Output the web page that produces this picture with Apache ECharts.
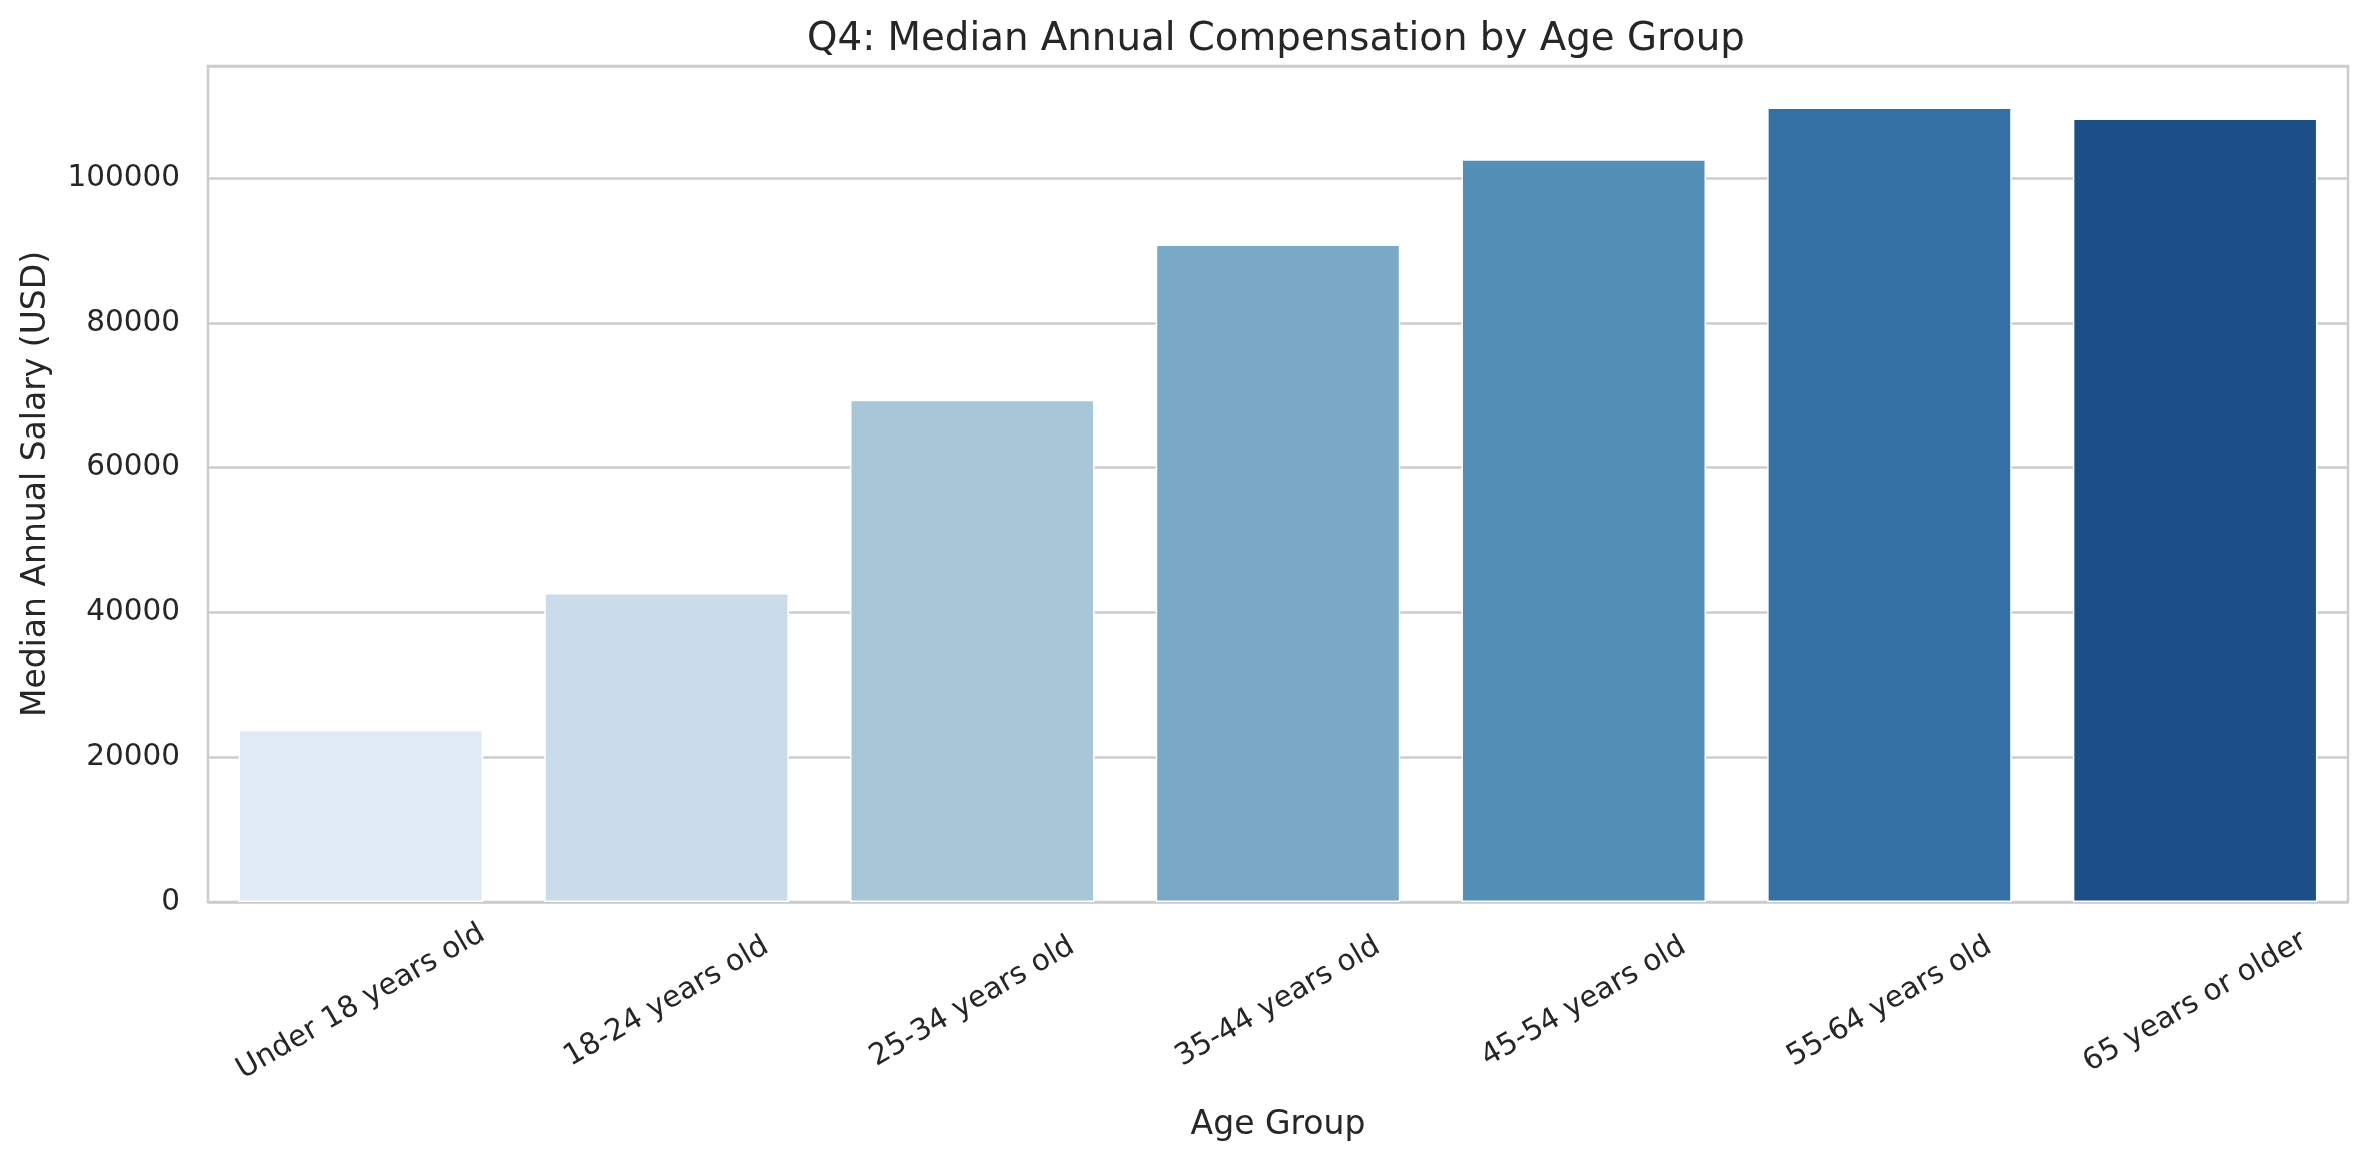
<!DOCTYPE html>
<html>
<head>
<meta charset="utf-8">
<script src="https://cdn.jsdelivr.net/npm/echarts@6/dist/echarts.min.js"></script>
<style>
  html, body { margin: 0; padding: 0; background: #fff; }
  #main { width: 2365px; height: 1163px; }
</style>
</head>
<body>
<div id="main"></div>
<script>
// data
var ageGroups = ['Under 18 years old', '18-24 years old', '25-34 years old', '35-44 years old',
                 '45-54 years old', '55-64 years old', '65 years or older'];
var medianSalary = [23800, 42700, 69400, 90850, 102600, 109750, 108250];
var barColors = ['#e0eaf4', '#cadbea', '#a7c7d9', '#7aa9c8', '#538fb7', '#3470a3', '#1c4f87'];
var yTicks = [0, 20000, 40000, 60000, 80000, 100000];

var chartDom = document.getElementById('main');
var myChart = echarts.init(chartDom);
var option;

var font = 'DejaVu Sans';
var textColor = '#262626';

option = {
  animation: false,
  backgroundColor: '#fff',
  title: {
    text: 'Q4: Median Annual Compensation by Age Group',
    left: 802,
    top: 15,
    textStyle: { fontFamily: font, fontSize: 38.75, fontWeight: 'normal', color: textColor }
  },
  grid: {
    left: 208, right: 17, top: 66, bottom: 261,
    show: true, borderColor: '#cccccc', borderWidth: 2.5, backgroundColor: '#fff'
  },
  xAxis: {
    type: 'category',
    data: ageGroups,
    name: 'Age Group',
    nameLocation: 'middle',
    nameGap: 207,
    nameTextStyle: { fontFamily: font, fontSize: 33, color: textColor },
    axisLine: { show: false },
    axisTick: { show: false },
    axisLabel: {
      rotate: 30,
      align: 'center',
      verticalAlign: 'middle',
      margin: 100,
      fontFamily: font,
      fontSize: 29.5,
      color: textColor
    }
  },
  yAxis: {
    type: 'value',
    min: 0,
    max: 115500,
    interval: 20000,
    name: 'Median Annual Salary (USD)',
    nameLocation: 'middle',
    nameGap: 155,
    nameTextStyle: { fontFamily: font, fontSize: 33, color: textColor },
    axisLine: { show: false },
    axisTick: { show: false },
    axisLabel: {
      margin: 28,
      fontFamily: font,
      fontSize: 29.5,
      color: textColor,
      showMaxLabel: false,
      formatter: function (v) { return yTicks.indexOf(v) >= 0 ? String(v) : ''; }
    },
    splitLine: { lineStyle: { color: '#cccccc', width: 2.5 } }
  },
  series: [
    {
      type: 'bar',
      barCategoryGap: '20%',
      data: medianSalary.map(function (v, i) {
        return { value: v, itemStyle: { color: barColors[i] } };
      }),
      itemStyle: { borderColor: '#ffffff', borderWidth: 1.5 }
    }
  ]
};

option && myChart.setOption(option);

window.addEventListener('resize', myChart.resize);
</script>
</body>
</html>
